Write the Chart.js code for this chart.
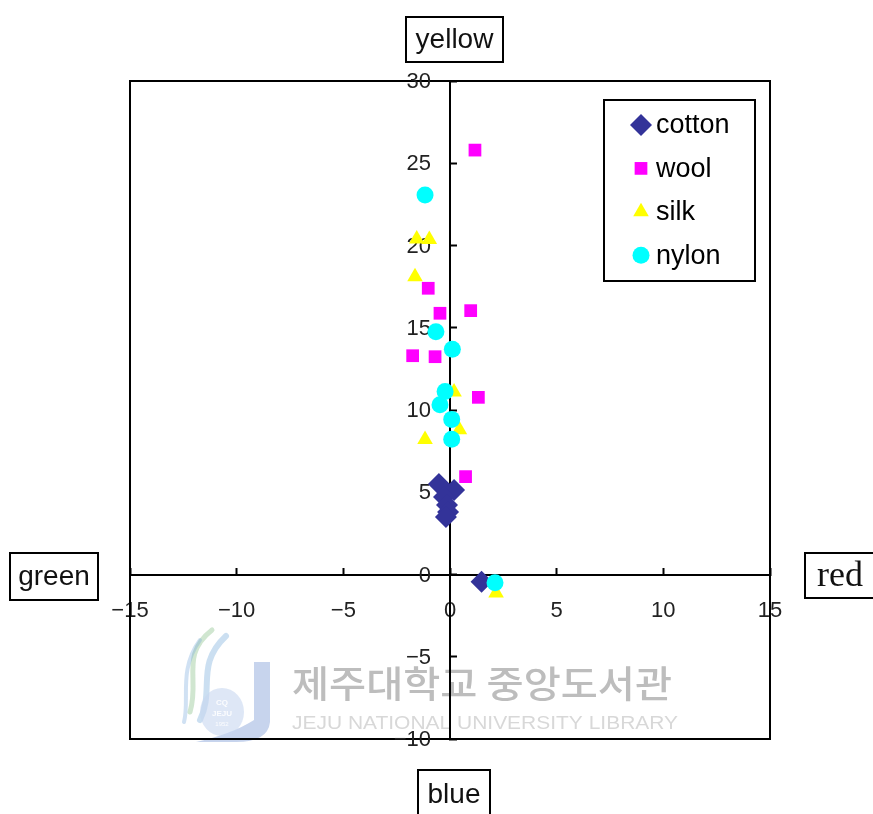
<!DOCTYPE html>
<html>
<head>
<meta charset="utf-8">
<script src="https://cdn.jsdelivr.net/npm/chart.js"></script>
<style>
    html, body { margin: 0; padding: 0; background: #ffffff; }
    #wrap { width: 873px; height: 814px; }
</style>
</head>
<body>
<div id="wrap"><canvas id="chart" width="873" height="814"></canvas></div>
<script>
// colour coordinates of four fibre types
const seriesNames = ['cotton', 'wool', 'silk', 'nylon'];

const cottonX = [-0.52, 0.19, -0.28, -0.14, -0.09, -0.19, 1.48];
const cottonY = [5.50, 5.14, 4.71, 4.22, 3.80, 3.50, -0.44];

const woolX = [1.17, -1.02, -0.47, 0.97, -1.75, -0.70, 1.33, 0.73];
const woolY = [25.8, 17.4, 15.88, 16.04, 13.3, 13.24, 10.77, 5.95];

const silkX = [-1.56, -0.97, -1.64, 0.19, 0.44, -1.17, 2.16];
const silkY = [20.4, 20.37, 18.1, 11.1, 8.8, 8.2, -1.12];

const nylonX = [-1.17, -0.66, 0.11, -0.23, -0.47, 0.08, 0.08, 2.11];
const nylonY = [23.07, 14.76, 13.69, 11.13, 10.32, 9.43, 8.22, -0.5];

const xRange = [-15, 15];
const yRange = [-10, 30];
const tickStep = 5;

// axis direction labels: up, left, right, down
const dirLabels = ['yellow', 'green', 'red', 'blue'];

const wmKorean = '제주대학교 중앙도서관';
const wmEnglish = 'JEJU NATIONAL UNIVERSITY LIBRARY';

const SANS = "'Liberation Sans', Arial, sans-serif";

function toPoints(xs, ys) {
    return xs.map((x, i) => ({ x: x, y: ys[i] }));
}

function minusSign(v) {
    return String(v).replace('-', '\u2212');
}

// faint library stamp behind the axes
const watermark = {
    id: 'watermark',
    beforeDraw(chart) {
        const ctx = chart.ctx;
        ctx.save();

        // logo swooshes
        ctx.lineCap = 'round';
        ctx.strokeStyle = 'rgba(150, 200, 150, 0.45)';
        ctx.lineWidth = 5;
        ctx.beginPath();
        ctx.moveTo(212, 630);
        ctx.bezierCurveTo(180, 655, 200, 680, 190, 712);
        ctx.stroke();
        ctx.strokeStyle = 'rgba(140, 185, 225, 0.45)';
        ctx.lineWidth = 6;
        ctx.beginPath();
        ctx.moveTo(226, 636);
        ctx.bezierCurveTo(195, 665, 215, 690, 200, 720);
        ctx.stroke();
        ctx.strokeStyle = 'rgba(120, 170, 220, 0.35)';
        ctx.lineWidth = 4;
        ctx.beginPath();
        ctx.moveTo(200, 640);
        ctx.bezierCurveTo(178, 670, 190, 700, 184, 722);
        ctx.stroke();

        // the "J"
        ctx.fillStyle = 'rgba(130, 160, 215, 0.45)';
        ctx.beginPath();
        ctx.moveTo(254, 662);
        ctx.lineTo(270, 662);
        ctx.lineTo(270, 722);
        ctx.quadraticCurveTo(268, 742, 236, 742);
        ctx.lineTo(196, 742);
        ctx.quadraticCurveTo(232, 734, 254, 720);
        ctx.closePath();
        ctx.fill();
        ctx.fillStyle = 'rgba(200, 215, 240, 0.6)';
        ctx.beginPath();
        ctx.ellipse(222, 712, 22, 24, 0, 0, Math.PI * 2);
        ctx.fill();
        ctx.fillStyle = 'rgba(255, 255, 255, 0.9)';
        ctx.font = 'bold 8px ' + SANS;
        ctx.textAlign = 'center';
        ctx.textBaseline = 'middle';
        ctx.fillText('CQ', 222, 703);
        ctx.fillText('JEJU', 222, 714);
        ctx.font = '6px ' + SANS;
        ctx.fillText('1952', 222, 724);

        // stamp text, squeezed to its width
        ctx.textAlign = 'left';
        ctx.textBaseline = 'alphabetic';
        ctx.fillStyle = '#bdbdbd';
        ctx.font = "500 37px 'Noto Sans CJK KR', sans-serif";
        let w = ctx.measureText(wmKorean).width;
        ctx.save();
        ctx.translate(292, 698);
        ctx.scale(380 / w, 1);
        ctx.fillText(wmKorean, 0, 0);
        ctx.restore();

        ctx.fillStyle = '#d8d8d8';
        ctx.font = '19px ' + SANS;
        w = ctx.measureText(wmEnglish).width;
        ctx.save();
        ctx.translate(292, 729);
        ctx.scale(386 / w, 1);
        ctx.fillText(wmEnglish, 0, 0);
        ctx.restore();

        ctx.restore();
    }
};

// plot frame, y tick labels, legend and the four boxed direction labels
const decorations = {
    id: 'decorations',
    beforeDatasetsDraw(chart) {
        const ctx = chart.ctx;
        const a = chart.chartArea;
        ctx.save();
        ctx.strokeStyle = '#000';
        ctx.lineWidth = 2;
        ctx.strokeRect(a.left, a.top, a.right - a.left, a.bottom - a.top);

        // y labels sit left of the vertical axis, ticks point right
        const ys = chart.scales.y;
        const axisX = chart.scales.x.getPixelForValue(0);
        ctx.fillStyle = '#222';
        ctx.font = tickFont.size + 'px ' + tickFont.family;
        ctx.textAlign = 'right';
        ctx.textBaseline = 'middle';
        ys.ticks.forEach(t => {
            ctx.fillText(minusSign(t.value), axisX - 19, ys.getPixelForValue(t.value) + 1);
        });
        ctx.restore();
    },
    afterDraw(chart) {
        const ctx = chart.ctx;
        ctx.save();

        // legend
        ctx.fillStyle = '#fff';
        ctx.fillRect(604, 100, 151, 181);
        ctx.strokeStyle = '#000';
        ctx.lineWidth = 2;
        ctx.strokeRect(604, 100, 151, 181);
        chart.data.datasets.forEach((ds, i) => {
            const y = 125 + i * 43.4;
            ctx.fillStyle = ds.backgroundColor;
            ctx.strokeStyle = ds.backgroundColor;
            Chart.helpers.drawPoint(ctx, {
                pointStyle: ds.pointStyle,
                radius: ds.pointRadius,
                rotation: 0,
                borderWidth: 0
            }, 641, y);
            ctx.fillStyle = '#000';
            ctx.font = '27px ' + SANS;
            ctx.textAlign = 'left';
            ctx.textBaseline = 'middle';
            ctx.fillText(ds.label, 656, y + 1);
        });

        function boxLabel(text, x1, y1, x2, y2, font) {
            ctx.fillStyle = '#fff';
            ctx.fillRect(x1, y1, x2 - x1, y2 - y1);
            ctx.strokeStyle = '#000';
            ctx.lineWidth = 2;
            ctx.strokeRect(x1, y1, x2 - x1, y2 - y1);
            ctx.fillStyle = '#111';
            ctx.font = font;
            ctx.textAlign = 'center';
            ctx.textBaseline = 'middle';
            ctx.fillText(text, (x1 + x2) / 2, (y1 + y2) / 2 + 1);
        }
        boxLabel(dirLabels[0], 406, 17, 503, 62, '28px ' + SANS);
        boxLabel(dirLabels[1], 10, 553, 98, 600, '28px ' + SANS);
        boxLabel(dirLabels[2], 805, 553, 875, 598, "36px 'Liberation Serif', 'Times New Roman', serif");
        boxLabel(dirLabels[3], 418, 770, 490, 818, '28px ' + SANS);

        ctx.restore();
    }
};

const tickFont = { family: SANS, size: 22 };

new Chart(document.getElementById('chart'), {
    type: 'scatter',
    data: {
        datasets: [
            {
                label: seriesNames[0],
                data: toPoints(cottonX, cottonY),
                backgroundColor: '#333399',
                borderColor: '#333399',
                pointStyle: 'rectRot',
                pointRadius: 11,
                borderWidth: 0,
                order: 3
            },
            {
                label: seriesNames[1],
                data: toPoints(woolX, woolY),
                backgroundColor: '#ff00ff',
                borderColor: '#ff00ff',
                pointStyle: 'rect',
                pointRadius: 9,
                borderWidth: 0,
                order: 2
            },
            {
                label: seriesNames[2],
                data: toPoints(silkX, silkY),
                backgroundColor: '#ffff00',
                borderColor: '#ffff00',
                pointStyle: 'triangle',
                pointRadius: 9,
                borderWidth: 0,
                order: 1
            },
            {
                label: seriesNames[3],
                data: toPoints(nylonX, nylonY),
                backgroundColor: '#00ffff',
                borderColor: '#00ffff',
                pointStyle: 'circle',
                pointRadius: 8.5,
                borderWidth: 0,
                order: 0
            }
        ]
    },
    options: {
        responsive: false,
        devicePixelRatio: 1,
        animation: false,
        events: [],
        layout: { padding: { left: 130, right: 103, top: 81, bottom: 75 } },
        plugins: {
            legend: { display: false },
            tooltip: { enabled: false }
        },
        scales: {
            x: {
                type: 'linear',
                min: xRange[0],
                max: xRange[1],
                position: { y: 0 },
                ticks: {
                    stepSize: tickStep,
                    autoSkip: false,
                    maxRotation: 0,
                    padding: 31,
                    color: '#222',
                    font: tickFont,
                    callback: minusSign
                },
                grid: {
                    display: true,
                    drawOnChartArea: false,
                    drawTicks: true,
                    tickLength: -8,
                    tickWidth: 2,
                    tickColor: '#000'
                },
                border: { display: true, color: '#000', width: 2 }
            },
            y: {
                type: 'linear',
                min: yRange[0],
                max: yRange[1],
                position: { x: 0 },
                ticks: {
                    stepSize: tickStep,
                    autoSkip: false,
                    display: false
                },
                grid: {
                    display: true,
                    drawOnChartArea: false,
                    drawTicks: true,
                    tickLength: -8,
                    tickWidth: 2,
                    tickColor: '#000'
                },
                border: { display: true, color: '#000', width: 2 }
            }
        }
    },
    plugins: [watermark, decorations]
});
</script>
</body>
</html>
